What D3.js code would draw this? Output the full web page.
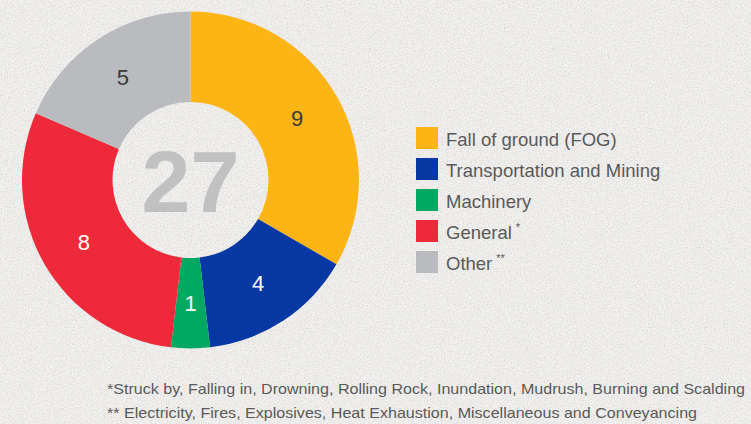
<!DOCTYPE html>
<html>
<head>
<meta charset="utf-8">
<script src="https://cdn.jsdelivr.net/npm/d3@7"></script>
<style>
  html, body { margin: 0; padding: 0; background: #efeeec; }
  svg { display: block; }
</style>
</head>
<body>
<div id="chart"></div>
<script>
var categories = ["Fall of ground (FOG)", "Transportation and Mining", "Machinery", "General", "Other"];
var values = [9, 4, 1, 8, 5];
var marks = ["", "", "", "*", "**"];
var colors = ["#fdb515", "#0638a3", "#00a862", "#ee2a3a", "#b9bbbe"];
var labelColors = ["#3b3b3b", "#ffffff", "#ffffff", "#ffffff", "#3b3b3b"];
var footnotes = [
  "*Struck by, Falling in, Drowning, Rolling Rock, Inundation, Mudrush, Burning and Scalding",
  "** Electricity, Fires, Explosives, Heat Exhaustion, Miscellaneous and Conveyancing"
];

var width = 751, height = 424;
var cx = 190.5, cy = 180, outerR = 168.5, innerR = 78;

var svg = d3.select("#chart").append("svg")
  .attr("width", width)
  .attr("height", height);

// paper texture
var defs = svg.append("defs");
var f = defs.append("filter").attr("id", "paper")
  .attr("x", 0).attr("y", 0).attr("width", "100%").attr("height", "100%");
f.append("feTurbulence").attr("type", "fractalNoise")
  .attr("baseFrequency", 0.7).attr("numOctaves", 3).attr("seed", 3);
f.append("feColorMatrix").attr("type", "matrix")
  .attr("values", "0 0 0 0 0.5  0 0 0 0 0.5  0 0 0 0 0.49  0 0 0 -2.2 1.25");
f.append("feComposite").attr("in2", "SourceGraphic").attr("operator", "in");

svg.append("rect").attr("width", width).attr("height", height).attr("fill", "#f1f0ee");
svg.append("rect").attr("width", width).attr("height", height)
  .attr("fill", "#fff").attr("filter", "url(#paper)").attr("opacity", 0.45);

var pie = d3.pie().sort(null).value(function (d) { return d; });
var arc = d3.arc().innerRadius(innerR).outerRadius(outerR);

var g = svg.append("g").attr("transform", "translate(" + cx + "," + cy + ")");
var arcs = pie(values);

g.selectAll("path.slice")
  .data(arcs)
  .enter().append("path")
  .attr("class", "slice")
  .attr("d", arc)
  .attr("fill", function (d, i) { return colors[i]; });

g.selectAll("text.val")
  .data(arcs)
  .enter().append("text")
  .attr("class", "val")
  .attr("transform", function (d) { return "translate(" + arc.centroid(d) + ")"; })
  .attr("dy", "0.36em")
  .attr("text-anchor", "middle")
  .attr("font-family", "Liberation Sans, Arial, sans-serif")
  .attr("font-size", 22)
  .attr("fill", function (d, i) { return labelColors[i]; })
  .text(function (d) { return d.data; });

g.append("text")
  .attr("text-anchor", "middle")
  .attr("dy", "0.36em")
  .attr("font-family", "Liberation Sans, Arial, sans-serif")
  .attr("font-weight", "bold")
  .attr("font-size", 88)
  .attr("fill", "#c1c1c1")
  .text(d3.sum(values));

// legend
var legend = svg.append("g").attr("transform", "translate(416,127)");
var row = legend.selectAll("g.row")
  .data(categories)
  .enter().append("g")
  .attr("class", "row")
  .attr("transform", function (d, i) { return "translate(0," + (i * 31) + ")"; });

row.append("rect")
  .attr("width", 22).attr("height", 22)
  .attr("fill", function (d, i) { return colors[i]; });

var lt = row.append("text")
  .attr("x", 30).attr("y", 19)
  .attr("font-family", "Liberation Sans, Arial, sans-serif")
  .attr("font-size", 18.5)
  .attr("fill", "#5a5a5a");
lt.append("tspan").text(function (d) { return d; });
lt.append("tspan")
  .attr("dx", 4).attr("dy", -8)
  .attr("font-size", 11)
  .text(function (d, i) { return marks[i]; });

// footnotes
svg.selectAll("text.note")
  .data(footnotes)
  .enter().append("text")
  .attr("class", "note")
  .attr("x", 107)
  .attr("y", function (d, i) { return 394 + i * 24.3; })
  .attr("font-family", "Liberation Sans, Arial, sans-serif")
  .attr("font-size", 15)
  .attr("fill", "#5a5a5a")
  .attr("textLength", function (d, i) { return i === 0 ? 638 : 590; })
  .attr("lengthAdjust", "spacingAndGlyphs")
  .text(function (d) { return d; });
</script>
</body>
</html>
